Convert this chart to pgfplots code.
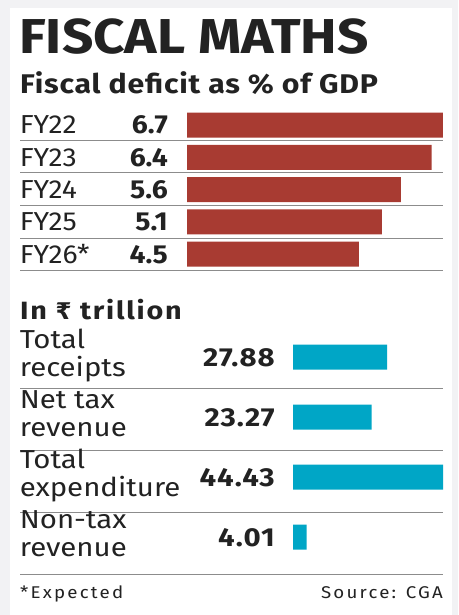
\documentclass[border=0pt]{standalone}
\usepackage{fontspec}
\setmainfont{Fira Sans}
\newfontfamily\rupeefont{DejaVu Sans}
\usepackage{pgfplots}
\usepackage{pgfplotstable}
\pgfplotsset{compat=1.18}
\definecolor{bgray}{HTML}{F2F2F4}
\definecolor{dred}{HTML}{A83B32}
\definecolor{tealbar}{HTML}{00A6C6}
\definecolor{txt}{HTML}{222222}
\definecolor{sepc}{HTML}{8C8C8C}

\pgfplotstableread[col sep=comma]{
name,val
FY22,6.7
FY23,6.4
FY24,5.6
FY25,5.1
FY26*,4.5
}\deficit

\pgfplotstableread[col sep=comma]{
la,lb,val
Total,receipts,27.88
Net tax,revenue,23.27
Total,expenditure,44.43
Non-tax,revenue,4.01
}\trillion

\begin{document}
\begin{tikzpicture}
\fill[bgray] (0,0) rectangle (458pt,-615pt);
\useasboundingbox (0,0) rectangle (458pt,-615pt);
\fill[white] (10pt,-8pt) rectangle (452pt,-615pt);

\node[anchor=base west, inner sep=0pt, text=txt, font=\fontsize{49}{49}\selectfont\addfontfeature{FakeStretch=1.12}\bfseries] at (19pt,-54pt) {FISCAL MATHS};
\node[anchor=base west, inner sep=0pt, text=txt, font=\fontsize{27}{27}\selectfont\addfontfeature{FakeStretch=1.12,LetterSpace=3}\bfseries] at (20pt,-94pt) {Fiscal deficit as \% of GDP};
\node[anchor=base west, inner sep=0pt, text=txt, font=\fontsize{25}{25}\selectfont\addfontfeature{FakeStretch=1.15,LetterSpace=7}\bfseries] at (20pt,-319pt) {In {\rupeefont\bfseries\fontsize{23}{23}\selectfont ₹} trillion};
\node[anchor=base west, inner sep=0pt, text=txt, font=\fontsize{17}{17}\selectfont\addfontfeature{FakeStretch=1.1,LetterSpace=13}] at (20pt,-598pt) {*Expected};
\node[anchor=base east, inner sep=0pt, text=txt, font=\fontsize{17}{17}\selectfont\addfontfeature{FakeStretch=1.1,LetterSpace=13}] at (443pt,-598pt) {Source: CGA};

\foreach \y in {140,172,205,238,270,388,450,512,574}
  \draw[sepc, line width=1pt] (20pt,{-\y*1pt}) -- (443pt,{-\y*1pt});

\begin{axis}[at={(187pt,-108.85pt)}, anchor=north west, scale only axis,
  width=256pt, height=161.5pt, xmin=0, xmax=6.7, ymin=-0.5, ymax=4.5,
  y dir=reverse, axis line style={draw=none}, xtick=\empty, ytick={0,...,4},
  major tick length=0pt, clip=false,
  yticklabel style={anchor=east, inner sep=0pt, xshift=-19pt, text=txt,
    font=\fontsize{26}{28}\selectfont\addfontfeature{FakeStretch=1.09}},
  yticklabel={\pgfplotstablegetelem{\ticknum}{name}\of\deficit\let\nmA\pgfplotsretval
    \pgfplotstablegetelem{\ticknum}{val}\of\deficit
    \makebox[148pt][l]{\nmA\hfill\textbf{\pgfplotsretval}}}]
\addplot[xbar, bar width=25pt, fill=dred, draw=none] table[x=val, y expr=\coordindex] {\deficit};
\end{axis}

\begin{axis}[at={(293pt,-327pt)}, anchor=north west, scale only axis,
  width=150pt, height=240pt, xmin=0, xmax=44.43, ymin=-0.5, ymax=3.5,
  y dir=reverse, axis line style={draw=none}, xtick=\empty, ytick={0,...,3},
  major tick length=0pt, clip=false,
  yticklabel style={anchor=east, inner sep=0pt, xshift=-17pt, text=txt,
    font=\fontsize{26}{28}\selectfont\addfontfeature{FakeStretch=1.13}},
  yticklabel={\pgfplotstablegetelem{\ticknum}{la}\of\trillion\let\lnA\pgfplotsretval
    \pgfplotstablegetelem{\ticknum}{lb}\of\trillion\let\lnB\pgfplotsretval
    \pgfplotstablegetelem{\ticknum}{val}\of\trillion
    \makebox[256pt][l]{\begin{tabular}{@{}l@{}}\lnA\\\lnB\end{tabular}\hfill\raisebox{-3pt}{\addfontfeature{LetterSpace=4}\textbf{\pgfplotsretval}}}}]
\addplot[xbar, bar width=25pt, fill=tealbar, draw=none] table[x=val, y expr=\coordindex] {\trillion};
\end{axis}
\end{tikzpicture}
\end{document}
